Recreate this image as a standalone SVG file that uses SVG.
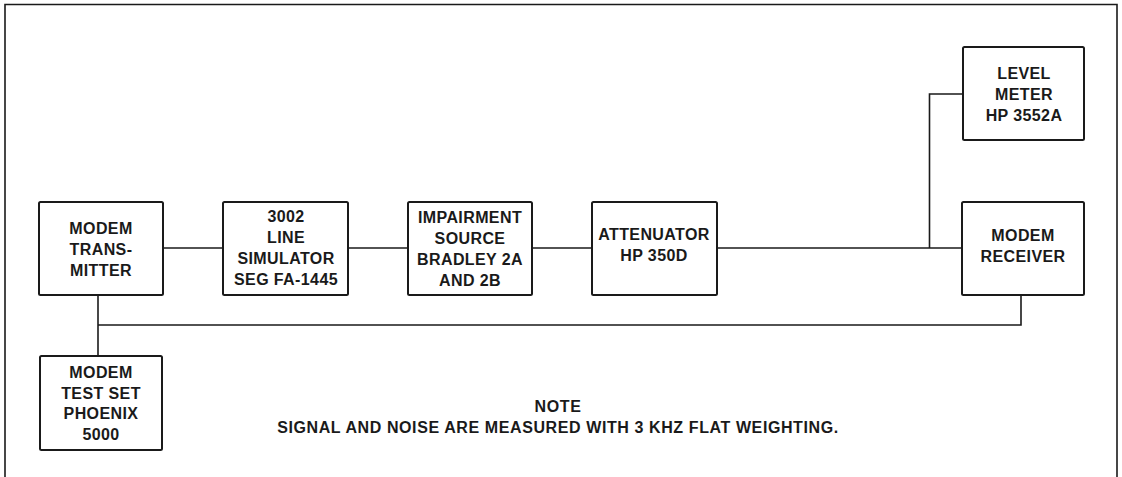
<svg xmlns="http://www.w3.org/2000/svg" width="1122" height="477" viewBox="0 0 1122 477">
<style>
.box{fill:#fff;stroke:#1a1a1a;stroke-width:2}
.ln{fill:none;stroke:#1a1a1a;stroke-width:1.6}
text{font-family:"Liberation Sans",Arial,sans-serif;font-weight:bold;font-size:16px;letter-spacing:0.4px;fill:#1a1a1a;text-anchor:middle;dominant-baseline:central}
.note{font-size:16px;letter-spacing:0.6px}
</style>
<rect width="1122" height="477" fill="#fff"/>
<path class="ln" d="M5,477 V4.5 H1117 V477" stroke-width="1.2"/>
<g id="connectors">
<path class="ln" d="M163,248 H223"/>
<path class="ln" d="M348,248 H408"/>
<path class="ln" d="M532,248 H592"/>
<path class="ln" d="M717,248 H962"/>
<path class="ln" d="M929.5,248 V94 H963"/>
<path class="ln" d="M98,295 V356"/>
<path class="ln" d="M98,325 H1021 V295"/>
</g>
<g id="tx"><rect class="box" x="39" y="202" width="124" height="93" rx="1.5"/>
<text x="101" y="228">MODEM</text><text x="101" y="249">TRANS-</text><text x="101" y="270">MITTER</text></g>
<g id="sim"><rect class="box" x="223" y="202" width="125" height="93" rx="1.5"/>
<text x="286" y="216">3002</text><text x="286" y="237">LINE</text><text x="286" y="258">SIMULATOR</text><text x="286" y="279">SEG FA-1445</text></g>
<g id="imp"><rect class="box" x="408" y="202" width="124" height="93" rx="1.5"/>
<text x="470" y="217">IMPAIRMENT</text><text x="470" y="238">SOURCE</text><text x="470" y="259">BRADLEY 2A</text><text x="470" y="280">AND 2B</text></g>
<g id="att"><rect class="box" x="592" y="202" width="125" height="93" rx="1.5"/>
<text x="654" y="234">ATTENUATOR</text><text x="654" y="255">HP 350D</text></g>
<g id="lvl"><rect class="box" x="963" y="47" width="121" height="93" rx="1.5"/>
<text x="1024" y="73">LEVEL</text><text x="1024" y="94">METER</text><text x="1024" y="115">HP 3552A</text></g>
<g id="rx"><rect class="box" x="962" y="202" width="122" height="93" rx="1.5"/>
<text x="1023" y="235">MODEM</text><text x="1023" y="256">RECEIVER</text></g>
<g id="ts"><rect class="box" x="40" y="356" width="122" height="94" rx="1.5"/>
<text x="101" y="372">MODEM</text><text x="101" y="393">TEST SET</text><text x="101" y="413">PHOENIX</text><text x="101" y="434">5000</text></g>
<g id="note"><text class="note" x="558" y="406">NOTE</text>
<text class="note" x="558" y="427">SIGNAL AND NOISE ARE MEASURED WITH 3 KHZ FLAT WEIGHTING.</text></g>
</svg>
